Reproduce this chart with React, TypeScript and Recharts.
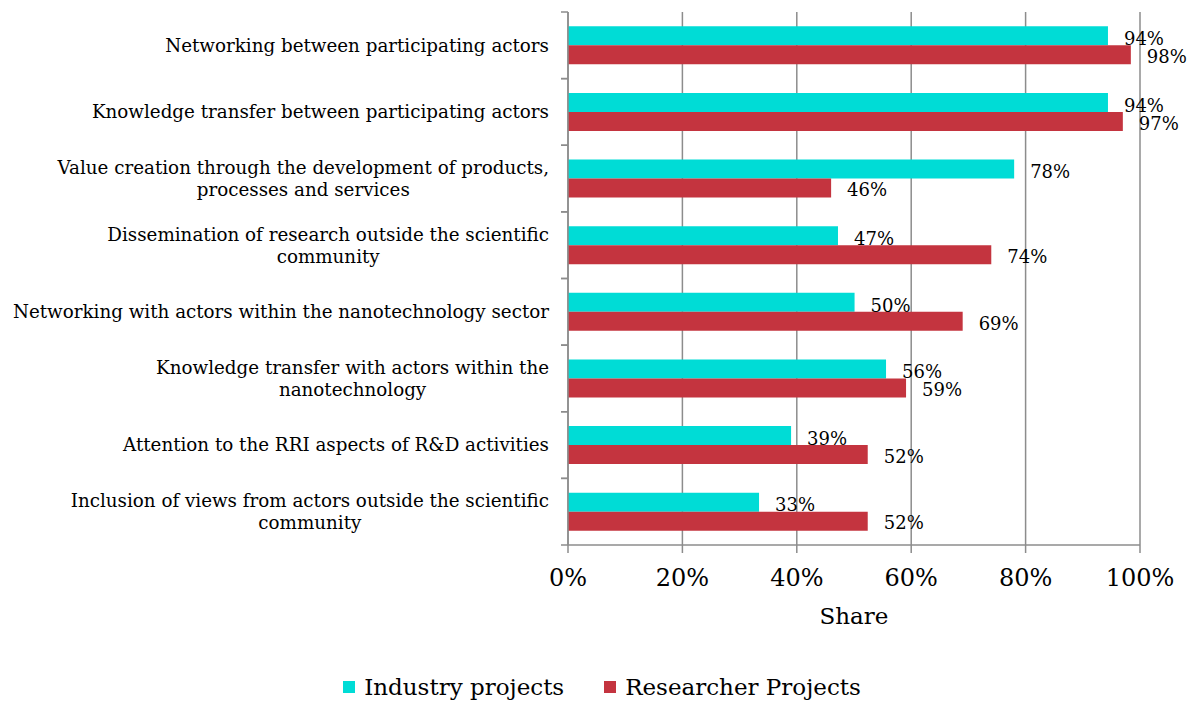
import { BarChart, Bar, XAxis, YAxis, CartesianGrid, Legend, LabelList } from "recharts";

const categories = [
  "Networking between participating actors",
  "Knowledge transfer between participating actors",
  "Value creation through the development of products,\nprocesses and services",
  "Dissemination of research outside the scientific\ncommunity",
  "Networking with actors within the nanotechnology sector",
  "Knowledge transfer with actors within the\nnanotechnology",
  "Attention to the RRI aspects of R&D activities",
  "Inclusion of views from actors outside the scientific\ncommunity",
];
const industry = [94.4, 94.4, 78, 47.2, 50.1, 55.6, 39, 33.4];
const researcher = [98.4, 97, 46, 74, 69, 59.1, 52.4, 52.4];
const xTicks = [0, 20, 40, 60, 80, 100];

const data = categories.map((name, i) => ({
  name,
  industry: industry[i],
  researcher: researcher[i],
}));

const FONT = '"DejaVu Serif", Georgia, serif';
const CAT_SIZE = 18.3;
const CYAN = "#00DCD6";
const RED = "#C4343F";
const GRID = "#8c8c8c";

let ctx: CanvasRenderingContext2D | null = null;
function textWidth(s: string, size: number) {
  if (!ctx) ctx = document.createElement("canvas").getContext("2d");
  if (!ctx) return s.length * size * 0.5;
  ctx.font = `${size}px ${FONT}`;
  return ctx.measureText(s).width;
}

function CategoryTick(props: any) {
  const { x, y, payload } = props;
  const half = payload.offset || 33.3;
  const lines = String(payload.value).split("\n");
  const right = x - 19;
  return (
    <g>
      <line x1={x - 7} x2={x} y1={y - half} y2={y - half} stroke={GRID} strokeWidth={1.5} />
      <line x1={x - 7} x2={x} y1={y + half} y2={y + half} stroke={GRID} strokeWidth={1.5} />
      {lines.length === 1 ? (
        <text x={right} y={y} dy="0.35em" textAnchor="end" fontSize={CAT_SIZE} fontFamily={FONT} fill="#000">
          {lines[0]}
        </text>
      ) : (
        <>
          <text x={right} y={y - 11} dy="0.35em" textAnchor="end" fontSize={CAT_SIZE} fontFamily={FONT} fill="#000">
            {lines[0]}
          </text>
          <text
            x={right - textWidth(lines[0], CAT_SIZE) / 2}
            y={y + 11}
            dy="0.35em"
            textAnchor="middle"
            fontSize={CAT_SIZE}
            fontFamily={FONT}
            fill="#000"
          >
            {lines[1]}
          </text>
        </>
      )}
    </g>
  );
}

const valueLabel = (shift: number) => (props: any) => {
  const { x, y, width, height, value } = props;
  return (
    <text
      x={x + width + 16}
      y={y + height / 2 + shift}
      dy="0.35em"
      fontSize={18}
      fontFamily={FONT}
      fill="#000"
    >
      {Math.round(value)}%
    </text>
  );
};

function LegendContent() {
  const items = [
    { label: "Industry projects", color: CYAN },
    { label: "Researcher Projects", color: RED },
  ];
  return (
    <div style={{ height: 30, display: "flex", justifyContent: "center", alignItems: "center", gap: 40, paddingLeft: 64, fontFamily: FONT, fontSize: 23, color: "#000" }}>
      {items.map((it) => (
        <div key={it.label} style={{ display: "flex", alignItems: "center" }}>
          <span style={{ width: 12, height: 12, background: it.color, marginRight: 9, display: "inline-block" }} />
          {it.label}
        </div>
      ))}
    </div>
  );
}

export default function App() {
  return (
    <div>
      <style>{`body{margin:0}`}</style>
      <BarChart
        width={1196}
        height={702}
        data={data}
        layout="vertical"
        margin={{ top: 12, right: 56, left: 0, bottom: 0 }}
        barCategoryGap="21.5%"
        barGap={0}
        style={{ fontFamily: FONT }}
      >
        <CartesianGrid horizontal={false} stroke={GRID} strokeWidth={1.5} />
        <XAxis
          type="number"
          domain={[0, 100]}
          ticks={xTicks}
          tickFormatter={(v) => `${v}%`}
          height={127}
          tickSize={8}
          tickMargin={16}
          stroke={GRID}
          strokeWidth={1.5}
          tick={{ fontSize: 24, fill: "#000", fontFamily: FONT }}
          label={({ viewBox }: any) => (
            <text
              x={viewBox.x + viewBox.width / 2}
              y={viewBox.y + 71}
              dy="0.35em"
              textAnchor="middle"
              fontSize={23}
              fontFamily={FONT}
              fill="#000"
            >
              Share
            </text>
          )}
        />
        <YAxis
          type="category"
          dataKey="name"
          width={568}
          tickSize={0}
          tickMargin={0}
          interval={0}
          stroke={GRID}
          strokeWidth={1.5}
          tick={<CategoryTick />}
        />
        <Legend verticalAlign="bottom" content={<LegendContent />} />
        <Bar dataKey="industry" name="Industry projects" fill={CYAN} isAnimationActive={false}>
          <LabelList dataKey="industry" content={valueLabel(3)} />
        </Bar>
        <Bar dataKey="researcher" name="Researcher Projects" fill={RED} isAnimationActive={false}>
          <LabelList dataKey="researcher" content={valueLabel(2)} />
        </Bar>
      </BarChart>
    </div>
  );
}
